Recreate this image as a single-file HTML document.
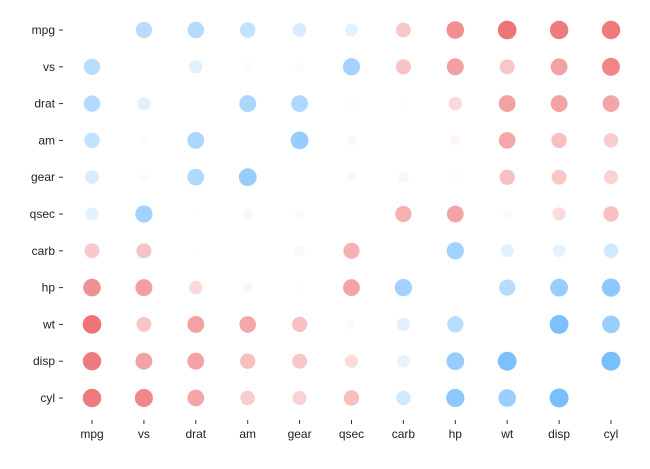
<!DOCTYPE html>
<html><head><meta charset="utf-8"><style>
body{margin:0;background:#fff;}
svg text{font-family:"Liberation Sans",sans-serif;font-size:12px;fill:#222;}
</style></head><body>
<svg id="s" width="650" height="464" xmlns="http://www.w3.org/2000/svg"></svg>
<script>
const names=["mpg","cyl","disp","hp","drat","wt","qsec","vs","am","gear","carb"];
const C=[
[1,-0.852,-0.848,-0.776,0.681,-0.868,0.419,0.664,0.600,0.480,-0.551],
[-0.852,1,0.902,0.832,-0.700,0.782,-0.591,-0.811,-0.523,-0.493,0.527],
[-0.848,0.902,1,0.791,-0.710,0.888,-0.434,-0.710,-0.591,-0.556,0.395],
[-0.776,0.832,0.791,1,-0.449,0.659,-0.708,-0.723,-0.243,-0.126,0.750],
[0.681,-0.700,-0.710,-0.449,1,-0.712,0.091,0.440,0.713,0.700,-0.091],
[-0.868,0.782,0.888,0.659,-0.712,1,-0.175,-0.555,-0.692,-0.583,0.428],
[0.419,-0.591,-0.434,-0.708,0.091,-0.175,1,0.745,-0.230,-0.213,-0.656],
[0.664,-0.811,-0.710,-0.723,0.440,-0.555,0.745,1,0.168,0.206,-0.570],
[0.600,-0.523,-0.591,-0.243,0.713,-0.692,-0.230,0.168,1,0.794,0.058],
[0.480,-0.493,-0.556,-0.126,0.700,-0.583,-0.213,0.206,0.794,1,0.274],
[-0.551,0.527,0.395,0.750,-0.091,0.428,-0.656,-0.570,0.058,0.274,1]];
const cols=["mpg","vs","drat","am","gear","qsec","carb","hp","wt","disp","cyl"];
const rows=["mpg","vs","drat","am","gear","qsec","carb","hp","wt","disp","cyl"];
let h="";
const X=i=>92+i*51.9, Y=j=>30+j*36.8;
rows.forEach((r,j)=>{
 h+=`<text x="55" y="${Y(j)+4}" text-anchor="end">${r}</text><line x1="59" x2="63" y1="${Y(j)}" y2="${Y(j)}" stroke="#333" stroke-width="1"/>`;
 cols.forEach((c,i)=>{
  if(r===c)return;
  const v=C[names.indexOf(r)][names.indexOf(c)];
  const a=Math.abs(v);
  const col=v<0?"#e8474b":"#5aafff";
  h+=`<circle cx="${X(i)}" cy="${Y(j)}" r="${10*Math.sqrt(a)}" fill="${col}" fill-opacity="${Math.pow(a,2)}"/>`;
 });
});
cols.forEach((c,i)=>{
 h+=`<line x1="${X(i)}" x2="${X(i)}" y1="420" y2="424" stroke="#333" stroke-width="1"/><text x="${X(i)}" y="438" text-anchor="middle">${c}</text>`;
});
document.getElementById("s").innerHTML=h;
</script>
</body></html>
